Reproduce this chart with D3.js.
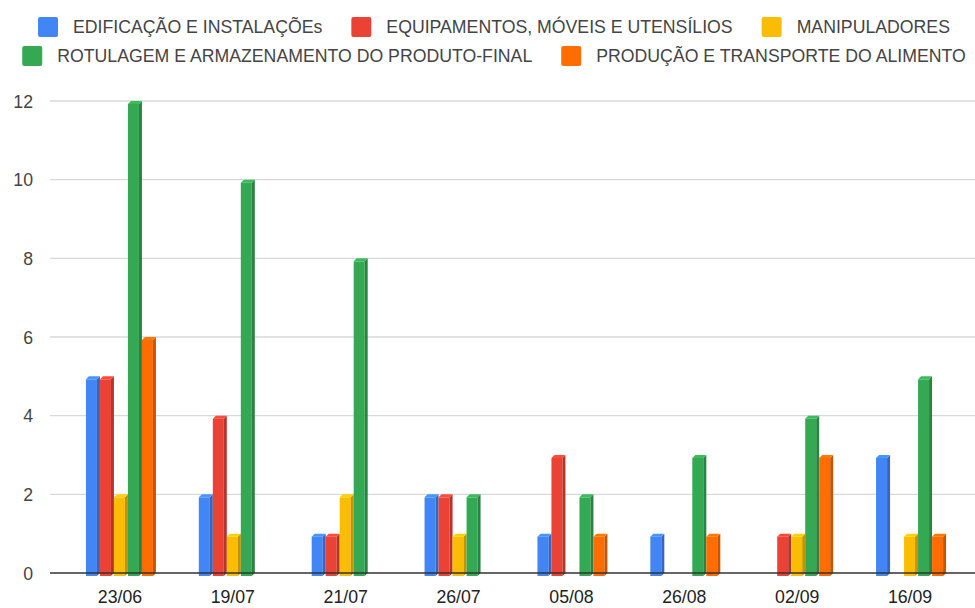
<!DOCTYPE html>
<html><head><meta charset="utf-8">
<script src="https://cdn.jsdelivr.net/npm/d3@7"></script>
<style>body{margin:0;background:#fff}svg{display:block}text{font-family:"Liberation Sans",Arial,sans-serif}</style>
</head><body><svg id="c" width="975" height="608"></svg>
<script>
const categories = ["23/06","19/07","21/07","26/07","05/08","26/08","02/09","16/09"];
const seriesNames = ["EDIFICAÇÃO E INSTALAÇÕEs","EQUIPAMENTOS, MÓVEIS E UTENSÍLIOS","MANIPULADORES","ROTULAGEM E ARMAZENAMENTO DO PRODUTO-FINAL","PRODUÇÃO E TRANSPORTE DO ALIMENTO"];
const edificacao   = [5,2,1,2,1,1,0,3];
const equipamentos = [5,4,1,2,3,0,1,0];
const manipuladores= [2,1,2,1,0,0,1,1];
const rotulagem    = [12,10,8,2,2,3,4,5];
const producao     = [6,0,0,0,1,1,3,1];
const yTicks = [0,2,4,6,8,10,12];
const colors = ["#4285F4","#EA4335","#FBBC04","#34A853","#FF6D01"];
const seriesValues = [edificacao,equipamentos,manipuladores,rotulagem,producao];

const svg = d3.select("#c");
const W = 975, H = 608;
const y = d3.scaleLinear().domain([0,12]).range([573,101]);
const x = d3.scaleBand().domain(categories).range([63.5,966.5]);
const slot = 14, bw = 11, d = 3;
const xs = d3.scaleBand().domain(d3.range(5)).range([-slot*2.5+1, slot*2.5+1]);

// gridlines
svg.append("g").selectAll("line").data(yTicks.filter(t=>t>0)).join("line")
  .attr("x1",50).attr("x2",W).attr("y1",t=>y(t)).attr("y2",t=>y(t))
  .attr("stroke","#d9d9d9").attr("stroke-width",1.3);

// y axis labels
const yAxis = d3.axisLeft(y).tickValues(yTicks).tickSize(0).tickPadding(0);
const ga = svg.append("g").attr("transform","translate(33,0)").call(yAxis);
ga.select(".domain").remove();
ga.selectAll("text").attr("font-size",17.7).attr("fill","#444").attr("font-family","Liberation Sans, Arial, sans-serif").attr("dy","0.35em");

// bars
const darker = c => d3.color(c).darker(0.7).formatHex();
const lighter = c => d3.color(c).brighter(0.3).formatHex();
const bars = [];
seriesValues.forEach((vals,si)=>vals.forEach((v,ci)=>{ if(v>0) bars.push({si,ci,v}); }));
const gb = svg.append("g");
bars.forEach(b=>{
  const x0 = x(categories[b.ci]) + x.bandwidth()/2 + xs(b.si);
  const yt = y(b.v), y0 = y(0);
  const c = colors[b.si];
  gb.append("rect").attr("x",x0).attr("y",yt+d).attr("width",bw).attr("height",y0-yt).attr("fill",c);
  gb.append("path").attr("d",`M${x0+bw},${yt+d}L${x0+bw+d},${yt}L${x0+bw+d},${y0}L${x0+bw},${y0+d}Z`).attr("fill",darker(c));
  gb.append("path").attr("d",`M${x0},${yt+d}L${x0+d},${yt}L${x0+bw+d},${yt}L${x0+bw},${yt+d}Z`).attr("fill",lighter(c));
});

// baseline
svg.append("line").attr("x1",50).attr("x2",W).attr("y1",y(0)).attr("y2",y(0)).attr("stroke","#333").attr("stroke-width",1.3);

// x axis labels
const xAxis = d3.axisBottom(x).tickSize(0).tickPadding(0);
const gx = svg.append("g").attr("transform",`translate(0,${y(0)})`).call(xAxis);
gx.select(".domain").remove();
gx.selectAll("text").attr("font-size",17.7).attr("fill","#222").attr("font-family","Liberation Sans, Arial, sans-serif").attr("y",30).attr("dy",0);

// legend: two centered rows
const rows = [[0,1,2],[3,4]];
const rowY = [27,56];
const sw = 20, gapT = 15, gapI = 29;
rows.forEach((r,ri)=>{
  const g = svg.append("g");
  let cx = 0;
  r.forEach(si=>{
    g.append("rect").attr("x",cx).attr("y",rowY[ri]-sw/2).attr("width",sw).attr("height",sw).attr("rx",2).attr("fill",colors[si]);
    const t = g.append("text").attr("x",cx+sw+gapT).attr("y",rowY[ri]).attr("dy","0.35em")
      .attr("font-size",17.7).attr("fill","#444").text(seriesNames[si]);
    cx += sw+gapT+t.node().getComputedTextLength()+gapI;
  });
  const total = cx-gapI;
  g.attr("transform",`translate(${494-total/2},0)`);
});
</script></body></html>
